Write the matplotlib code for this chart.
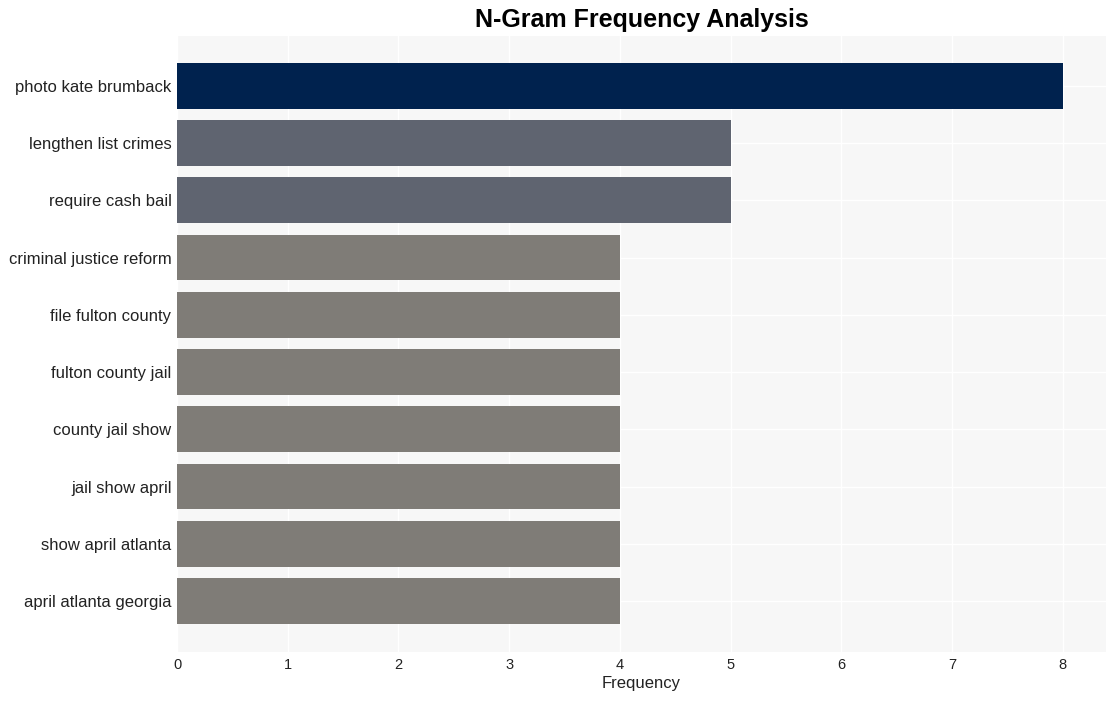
import matplotlib
matplotlib.use("Agg")
import matplotlib.pyplot as plt

plt.rcParams['font.family'] = ['Liberation Sans', 'DejaVu Sans']

labels = ["photo kate brumback", "lengthen list crimes", "require cash bail",
          "criminal justice reform", "file fulton county", "fulton county jail",
          "county jail show", "jail show april", "show april atlanta",
          "april atlanta georgia"]
values = [8, 5, 5, 4, 4, 4, 4, 4, 4, 4]
colors = ["#00224e", "#5f6470", "#5f6470", "#7f7c77", "#7f7c77", "#7f7c77",
          "#7f7c77", "#7f7c77", "#7f7c77", "#7f7c77"]

fig = plt.figure(figsize=(11.17, 7.01), dpi=100)
ax = fig.add_axes([177/1117, 1 - 652/701, (1106-177)/1117, (652-36)/701])
ax.set_facecolor("#f7f7f7")
pos = list(range(len(labels)))
ax.barh(pos, values, height=0.8, color=colors, zorder=2)
ax.set_yticks(pos)
ax.set_yticklabels(labels, fontsize=12, color="#222222")
ax.set_ylim(len(labels) - 1 + 0.89, -0.87)
ax.set_xlim(0, 8.39)
ax.set_xticks(range(0, 9))
ax.tick_params(axis='x', labelsize=10.5, colors="#222222", length=0, pad=4)
ax.tick_params(axis='y', length=0, pad=4)
ax.grid(True, color="white", linewidth=1.0, zorder=0)
ax.set_axisbelow(True)
for s in ax.spines.values():
    s.set_visible(False)
ax.set_xlabel("Frequency", fontsize=12, color="#222222", labelpad=3)
fig.text(642/1117, 1 - 20/701, "N-Gram Frequency Analysis", ha="center", va="center",
         fontsize=18, fontweight="bold", color="black")
fig.savefig("out.png", dpi=100, facecolor="white")
